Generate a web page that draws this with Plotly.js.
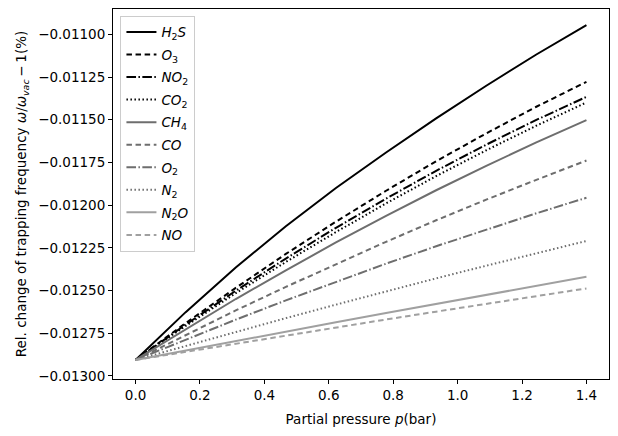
<!DOCTYPE html>
<html>
<head>
<meta charset="utf-8">
<script src="https://cdn.plot.ly/plotly-3.0.1.min.js"></script>
<style>
  html, body { margin: 0; padding: 0; background: #fff; }
  #chart { width: 618px; height: 436px; }
</style>
</head>
<body>
<div id="chart"></div>
<script>
/***********
  DATA
************/

// Partial pressure (bar)
const pressure = [0, 0.1556, 0.3111, 0.4667, 0.6222, 0.7778, 0.9333, 1.0889, 1.2444, 1.4];

// Relative change of trapping frequency, one array per gas
const h2s = [-0.012907, -0.012627, -0.012365, -0.012124, -0.011900, -0.011692, -0.011492, -0.011301, -0.011118, -0.010946];
const o3  = [-0.012907, -0.012691, -0.012485, -0.012286, -0.012097, -0.011916, -0.011743, -0.011580, -0.011424, -0.011278];
const no2 = [-0.012907, -0.012700, -0.012502, -0.012313, -0.012133, -0.011962, -0.011799, -0.011646, -0.011501, -0.011366];
const co2 = [-0.012907, -0.012708, -0.012516, -0.012333, -0.012158, -0.011990, -0.011830, -0.011679, -0.011535, -0.011399];
const ch4 = [-0.012907, -0.012726, -0.012550, -0.012382, -0.012219, -0.012063, -0.011913, -0.011770, -0.011633, -0.011502];
const co  = [-0.012907, -0.012760, -0.012617, -0.012479, -0.012345, -0.012215, -0.012089, -0.011968, -0.011852, -0.011739];
const o2  = [-0.012907, -0.012787, -0.012671, -0.012558, -0.012449, -0.012343, -0.012241, -0.012143, -0.012048, -0.011957];
const n2  = [-0.012907, -0.012824, -0.012742, -0.012662, -0.012583, -0.012505, -0.012429, -0.012355, -0.012282, -0.012210];
const n2o = [-0.012907, -0.012851, -0.012796, -0.012741, -0.012686, -0.012632, -0.012578, -0.012525, -0.012472, -0.012420];
const no  = [-0.012907, -0.012859, -0.012811, -0.012763, -0.012717, -0.012670, -0.012624, -0.012578, -0.012533, -0.012488];

// Legend labels
const labels = [
  '<i>H</i><sub>2</sub><i>S</i>',
  '<i>O</i><sub>3</sub>',
  '<i>NO</i><sub>2</sub>',
  '<i>CO</i><sub>2</sub>',
  '<i>CH</i><sub>4</sub>',
  '<i>CO</i>',
  '<i>O</i><sub>2</sub>',
  '<i>N</i><sub>2</sub>',
  '<i>N</i><sub>2</sub><i>O</i>',
  '<i>NO</i>'
];

// Tick labels
const xTicks = [0, 0.2, 0.4, 0.6, 0.8, 1.0, 1.2, 1.4];
const xTickText = ['0.0', '0.2', '0.4', '0.6', '0.8', '1.0', '1.2', '1.4'];
const yTicks = [-0.013, -0.01275, -0.0125, -0.01225, -0.012, -0.01175, -0.0115, -0.01125, -0.011];
const yTickText = ['\u22120.01300', '\u22120.01275', '\u22120.01250', '\u22120.01225', '\u22120.01200',
                   '\u22120.01175', '\u22120.01150', '\u22120.01125', '\u22120.01100'];

/***********
  STYLES
************/
const BLACK = '#000000';
const MID = '#6e6e6e';
const LIGHT = '#a0a0a0';

const SOLID = 'solid';
const DASHED = '5.5px,3.6px';
const DASHDOT = '9.6px,2.4px,1.5px,2.4px';
const DOTTED = '1.5px,2.5px';

const series = [h2s, o3, no2, co2, ch4, co, o2, n2, n2o, no];
const colors = [BLACK, BLACK, BLACK, BLACK, MID, MID, MID, MID, LIGHT, LIGHT];
const dashes = [SOLID, DASHED, DASHDOT, DOTTED, SOLID, DASHED, DASHDOT, DOTTED, SOLID, DASHED];

/***********
  PLOT
************/
function drawChart() {
  // one legend group per trace so tracegroupgap spaces the rows like matplotlib
  let plotData = series.map((ys, i) => ({
    x: pressure,
    y: ys,
    name: labels[i],
    legendgroup: 'g' + i,
    mode: 'lines',
    type: 'scatter',
    line: { color: colors[i], width: 2, dash: dashes[i] }
  }));

  const font = { family: 'DejaVu Sans', size: 13.5, color: '#000' };

  let layout = {
    width: 618,
    height: 436,
    margin: { l: 113, r: 9, t: 9, b: 57 },
    paper_bgcolor: '#fff',
    plot_bgcolor: '#fff',
    font: font,
    showlegend: true,
    legend: {
      x: 0.015, y: 0.982,
      xanchor: 'left', yanchor: 'top',
      bgcolor: 'rgba(255,255,255,0.8)',
      bordercolor: '#cccccc',
      borderwidth: 1,
      font: { family: 'DejaVu Sans', size: 13.5, color: '#000' },
      itemwidth: 30,
      tracegroupgap: 2
    },
    xaxis: {
      range: [-0.07, 1.47],
      tickmode: 'array',
      tickvals: xTicks,
      ticktext: xTickText,
      ticks: 'outside',
      ticklen: 4,
      tickcolor: '#000',
      showgrid: false,
      zeroline: false,
      showline: true,
      linecolor: '#000',
      linewidth: 1,
      mirror: true,
      title: { text: 'Partial pressure <i>p</i>(bar)', font: font, standoff: 12 }
    },
    yaxis: {
      range: [-0.0130185, -0.0108515],
      tickmode: 'array',
      tickvals: yTicks,
      ticktext: yTickText,
      ticks: 'outside',
      ticklen: 4,
      tickcolor: '#000',
      showgrid: false,
      zeroline: false,
      showline: true,
      linecolor: '#000',
      linewidth: 1,
      mirror: true,
      title: {
        text: 'Rel. change of trapping frequency <i>\u03c9</i>/<i>\u03c9</i><sub><i>vac</i></sub><span>\u2009\u2212\u20091(%)</span>',
        font: font,
        standoff: 8
      }
    }
  };

  Plotly.newPlot('chart', plotData, layout, { staticPlot: true });
}

drawChart();
</script>
</body>
</html>
